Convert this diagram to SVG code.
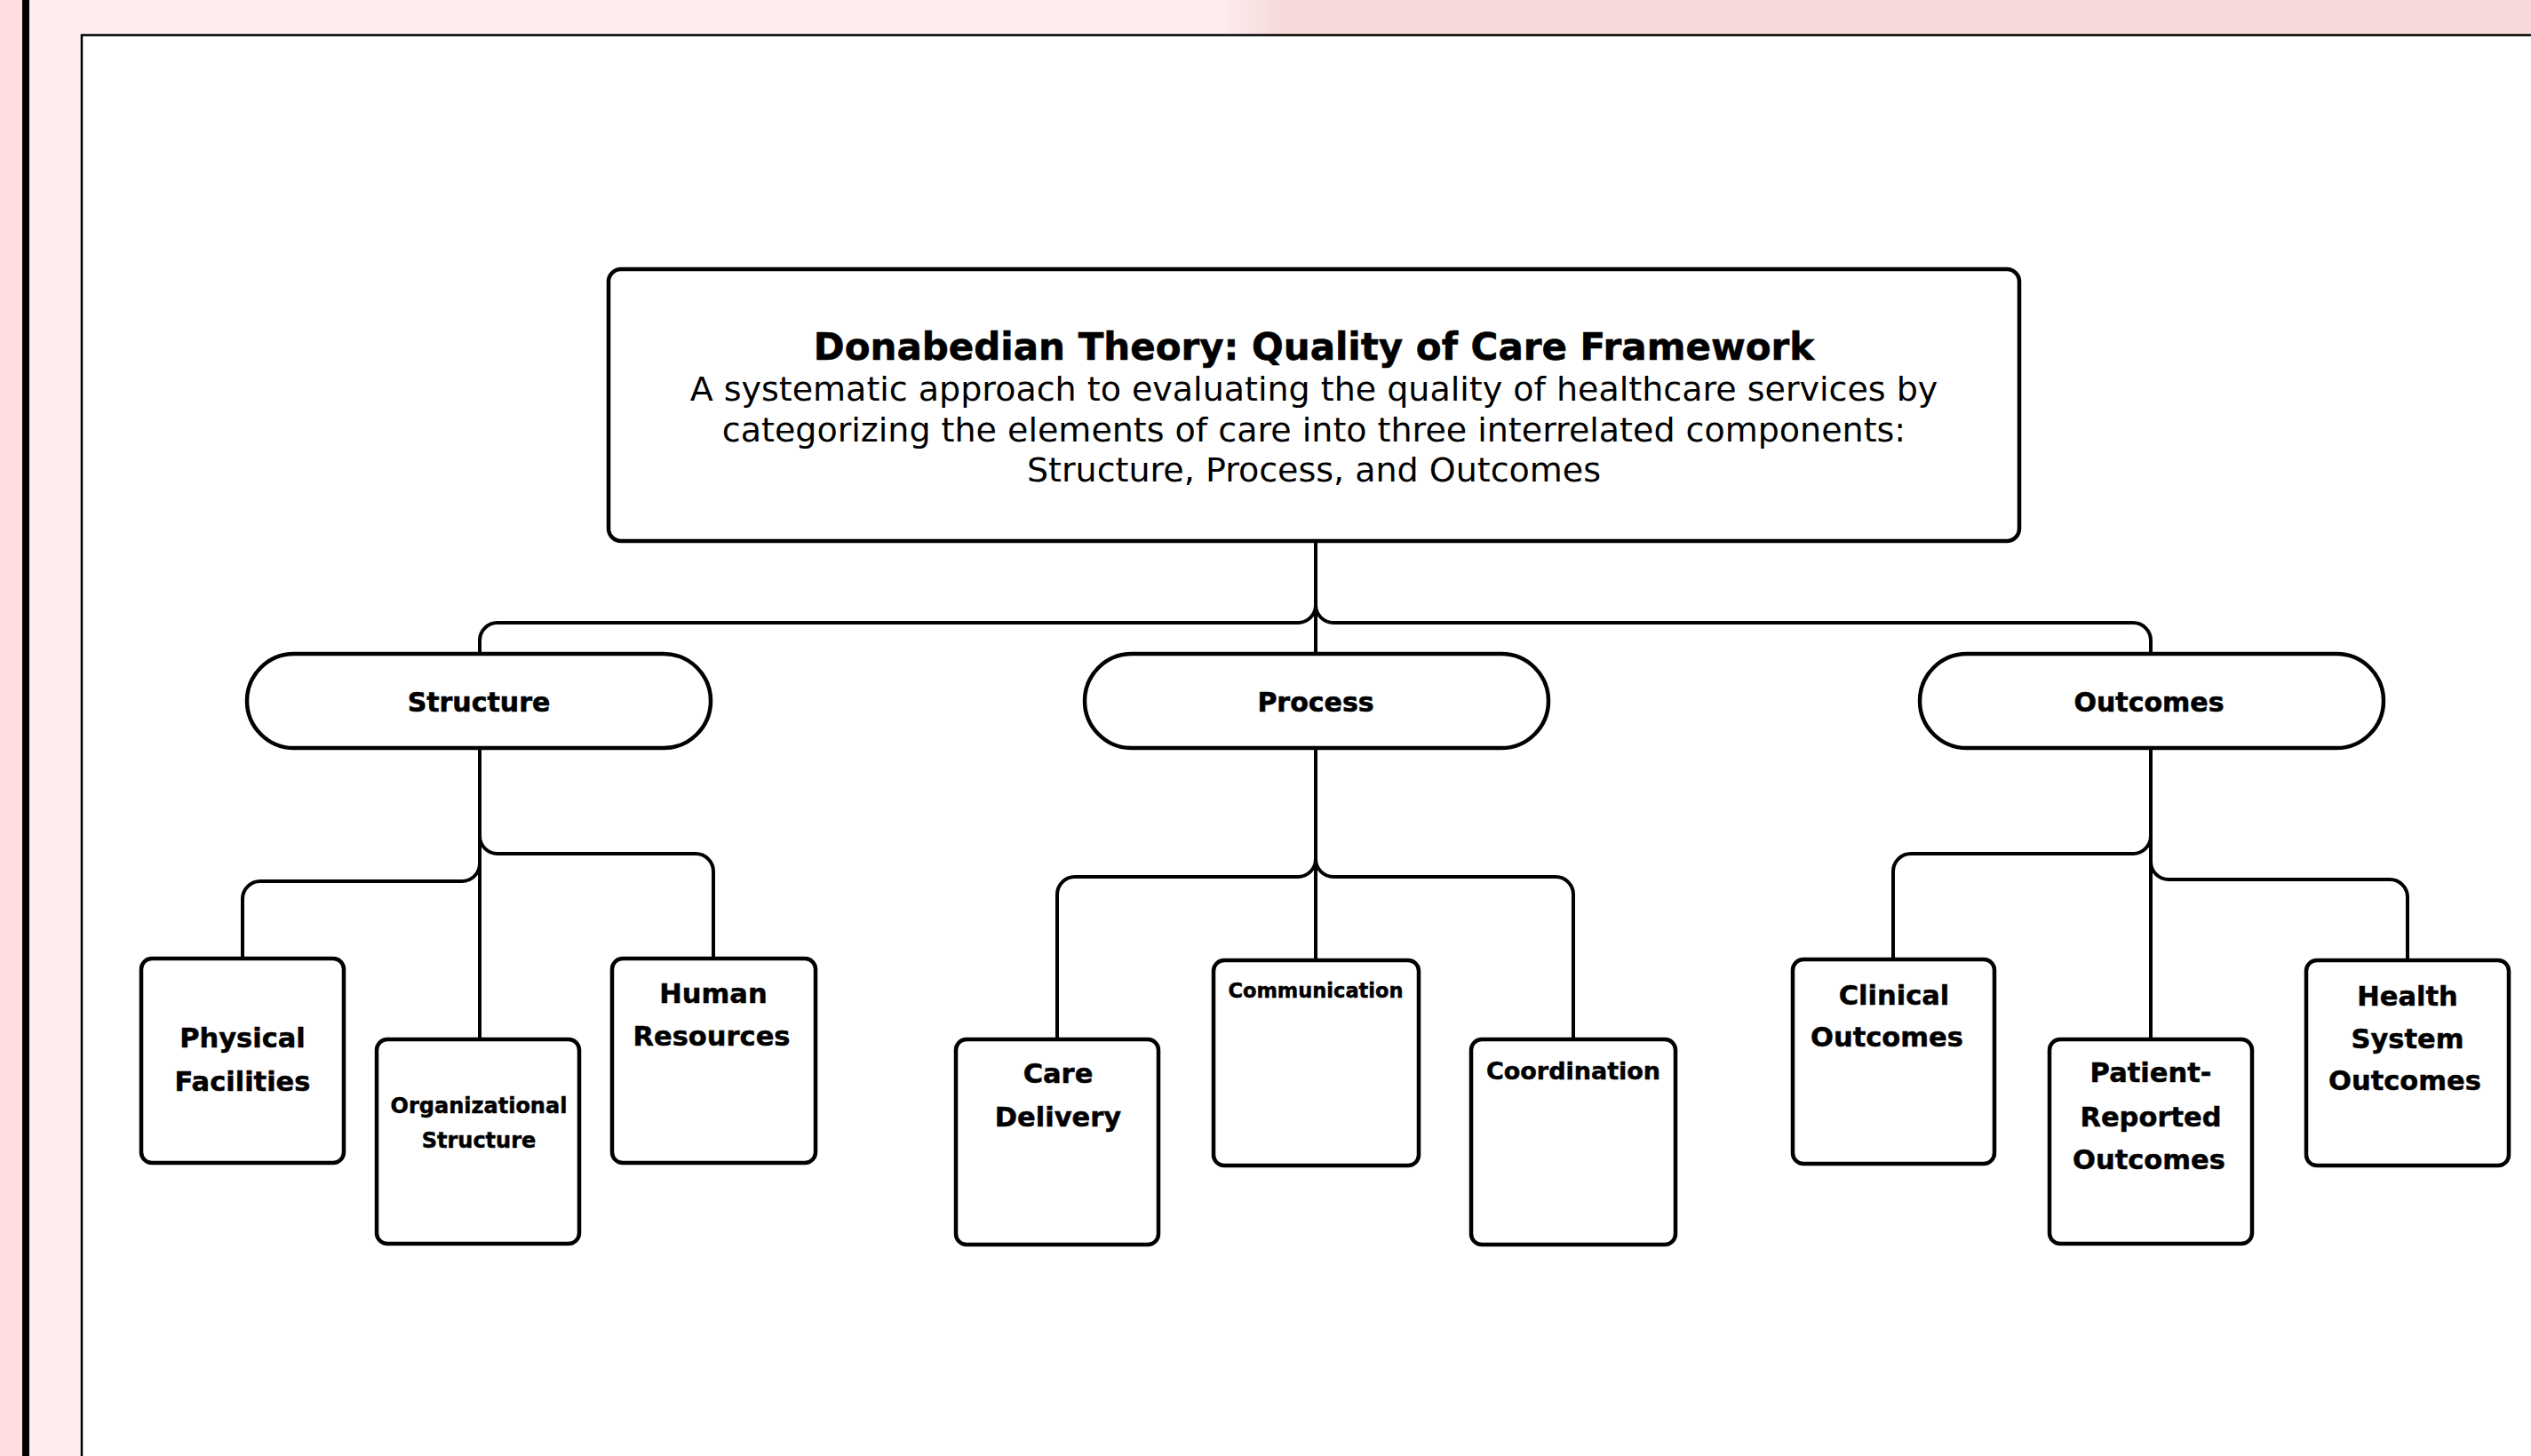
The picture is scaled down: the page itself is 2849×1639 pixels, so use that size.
<svg xmlns="http://www.w3.org/2000/svg" width="2849" height="1639" viewBox="0 0 2849 1639">
  <defs>
    <linearGradient id="band" gradientUnits="userSpaceOnUse" x1="1380" y1="0" x2="1445" y2="0">
      <stop offset="0" stop-color="#FDECEC"/>
      <stop offset="1" stop-color="#F6D9DB"/>
    </linearGradient>
    <style>
      .box { fill: #ffffff; stroke: #000000; stroke-width: 4.5; }
      .conn { fill: none; stroke: #000000; stroke-width: 4; stroke-linecap: butt; stroke-linejoin: round; }
      .title { font-family: "DejaVu Sans", sans-serif; font-weight: bold; font-size: 42px; fill: #000; text-anchor: middle; stroke: #000; stroke-width: 0.6; }
      .sub { font-family: "DejaVu Sans", sans-serif; font-size: 38px; fill: #000; text-anchor: middle; }
      .pill { font-family: "DejaVu Sans", sans-serif; font-weight: bold; font-size: 30px; fill: #000; text-anchor: middle; stroke: #000; stroke-width: 0.6; }
      .lbl { font-family: "DejaVu Sans", sans-serif; font-weight: bold; font-size: 30.5px; fill: #000; text-anchor: middle; stroke: #000; stroke-width: 0.5; }
    </style>
  </defs>

  <!-- background -->
  <rect x="0" y="0" width="2849" height="1639" fill="#FEEDEE"/>
  <rect x="1380" y="0" width="1469" height="39" fill="url(#band)"/>
  <rect x="0" y="0" width="25" height="1639" fill="#FFDDE0"/>
  <rect x="25" y="0" width="8" height="1639" fill="#000000"/>
  <rect x="92" y="39.5" width="2800" height="1700" fill="#ffffff" stroke="#000000" stroke-width="2.5"/>

  <!-- connectors -->
  <g id="connectors">
    <path class="conn" d="M1481,611 V734"/>
    <path class="conn" d="M1481,681 A20,20 0 0 1 1461,701 H560 A20,20 0 0 0 540,721 V734"/>
    <path class="conn" d="M1481,681 A20,20 0 0 0 1501,701 H2401 A20,20 0 0 1 2421,721 V734"/>

    <path class="conn" d="M540,844 V1168"/>
    <path class="conn" d="M540,972 A20,20 0 0 1 520,992 H293 A20,20 0 0 0 273,1012 V1077"/>
    <path class="conn" d="M540,941 A20,20 0 0 0 560,961 H783 A20,20 0 0 1 803,981 V1077"/>

    <path class="conn" d="M1481,844 V1079"/>
    <path class="conn" d="M1481,967 A20,20 0 0 1 1461,987 H1210 A20,20 0 0 0 1190,1007 V1168"/>
    <path class="conn" d="M1481,967 A20,20 0 0 0 1501,987 H1751 A20,20 0 0 1 1771,1007 V1168"/>

    <path class="conn" d="M2421,844 V1168"/>
    <path class="conn" d="M2421,941 A20,20 0 0 1 2401,961 H2151 A20,20 0 0 0 2131,981 V1078"/>
    <path class="conn" d="M2421,970 A20,20 0 0 0 2441,990 H2690 A20,20 0 0 1 2710,1010 V1079"/>
  </g>

  <!-- title -->
  <g id="title">
    <rect class="box" x="685" y="303" width="1588" height="306" rx="14"/>
    <text class="title" x="1479" y="405">Donabedian Theory: Quality of Care Framework</text>
    <text class="sub" x="1479" y="451">A systematic approach to evaluating the quality of healthcare services by</text>
    <text class="sub" x="1479" y="497">categorizing the elements of care into three interrelated components:</text>
    <text class="sub" x="1479" y="542">Structure, Process, and Outcomes</text>
  </g>

  <!-- level 1 -->
  <g id="structure">
    <rect class="box" x="278" y="736" width="522" height="106" rx="53"/>
    <text class="pill" x="539" y="801">Structure</text>
  </g>
  <g id="process">
    <rect class="box" x="1221" y="736" width="522" height="106" rx="53"/>
    <text class="pill" x="1481" y="801">Process</text>
  </g>
  <g id="outcomes">
    <rect class="box" x="2161" y="736" width="522" height="106" rx="53"/>
    <text class="pill" x="2419" y="801">Outcomes</text>
  </g>

  <!-- structure children -->
  <g id="physical-facilities">
    <rect class="box" x="159" y="1079" width="228" height="230" rx="12"/>
    <text class="lbl" x="273" y="1179">Physical</text>
    <text class="lbl" x="273" y="1228">Facilities</text>
  </g>
  <g id="organizational-structure">
    <rect class="box" x="424" y="1170" width="228" height="230" rx="12"/>
    <text class="lbl" style="font-size:24px" x="539" y="1253">Organizational</text>
    <text class="lbl" style="font-size:24px" x="539" y="1292">Structure</text>
  </g>
  <g id="human-resources">
    <rect class="box" x="689" y="1079" width="229" height="230" rx="12"/>
    <text class="lbl" x="803" y="1129">Human</text>
    <text class="lbl" x="801" y="1177">Resources</text>
  </g>

  <!-- process children -->
  <g id="care-delivery">
    <rect class="box" x="1076" y="1170" width="228" height="231" rx="12"/>
    <text class="lbl" x="1191" y="1219">Care</text>
    <text class="lbl" x="1191" y="1268">Delivery</text>
  </g>
  <g id="communication">
    <rect class="box" x="1366" y="1081" width="231" height="231" rx="12"/>
    <text class="lbl" style="font-size:22.5px" x="1481" y="1123">Communication</text>
  </g>
  <g id="coordination">
    <rect class="box" x="1656" y="1170" width="230" height="231" rx="12"/>
    <text class="lbl" style="font-size:27px" x="1771" y="1215">Coordination</text>
  </g>

  <!-- outcomes children -->
  <g id="clinical-outcomes">
    <rect class="box" x="2018" y="1080" width="227" height="230" rx="12"/>
    <text class="lbl" x="2132" y="1131">Clinical</text>
    <text class="lbl" x="2124" y="1178">Outcomes</text>
  </g>
  <g id="patient-reported-outcomes">
    <rect class="box" x="2307" y="1170" width="228" height="230" rx="12"/>
    <text class="lbl" x="2421" y="1218">Patient-</text>
    <text class="lbl" x="2421" y="1268">Reported</text>
    <text class="lbl" x="2419" y="1316">Outcomes</text>
  </g>
  <g id="health-system-outcomes">
    <rect class="box" x="2596" y="1081" width="228" height="231" rx="12"/>
    <text class="lbl" x="2710" y="1132">Health</text>
    <text class="lbl" x="2710" y="1180">System</text>
    <text class="lbl" x="2707" y="1227">Outcomes</text>
  </g>
</svg>
